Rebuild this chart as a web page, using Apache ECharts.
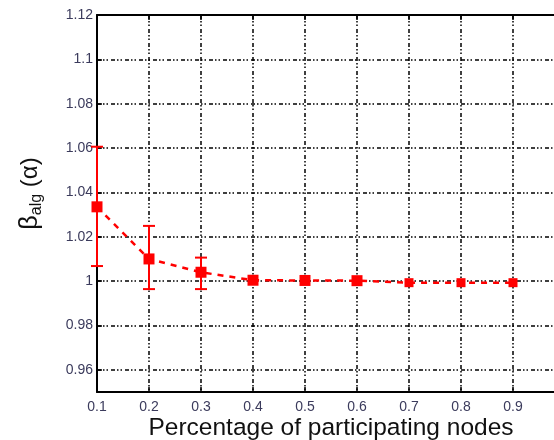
<!DOCTYPE html>
<html><head><meta charset="utf-8">
<script src="https://cdn.jsdelivr.net/npm/echarts@6/dist/echarts.min.js"></script>
<style>html,body{margin:0;padding:0;background:#fff}#c{width:554px;height:440px}</style>
</head><body><div id="c"></div>
<script>
var xValues = [0.1, 0.2, 0.3, 0.4, 0.5, 0.6, 0.7, 0.8, 0.9];
var meanValues = [1.0335, 1.0100, 1.0040, 1.0004, 1.0003, 1.0002, 0.9993, 0.9993, 0.9993];
var errLow = [1.0068, 0.9964, 0.9964, null, null, null, null, null, null];
var errHigh = [1.0606, 1.0249, 1.0106, null, null, null, null, null, null];
var yTicks = [0.96, 0.98, 1, 1.02, 1.04, 1.06, 1.08, 1.1, 1.12];
var xTicks = [0.1, 0.2, 0.3, 0.4, 0.5, 0.6, 0.7, 0.8, 0.9];

var chart = echarts.init(document.getElementById('c'));
var gridLine = {show: true, lineStyle: {color: '#000', width: 1.5, type: [4, 2, 1.5, 2, 1.5, 3]}};
var labelColor = '#3b3b5c';
var lineData = xValues.map(function (x, i) { return [x, meanValues[i]]; });
var errData = [];
xValues.forEach(function (x, i) {
  if (errLow[i] != null) errData.push([x, errLow[i], errHigh[i]]);
});
chart.setOption({
  animation: false,
  grid: {left: 97, top: 15, bottom: 48, right: -11, outerBoundsMode: 'none', containLabel: false},
  xAxis: [{
    type: 'value', min: 0.1, max: 1.0, interval: 0.1, position: 'bottom',
    axisLine: {show: true, onZero: false, lineStyle: {color: '#000', width: 2}},
    axisTick: {show: true, inside: true, length: 5, lineStyle: {color: '#000', width: 1.5}},
    axisLabel: {color: labelColor, fontSize: 14, fontFamily: 'Liberation Sans', margin: 8,
      customValues: xTicks, formatter: function (v) { return String(Math.round(v * 10) / 10); }},
    splitLine: gridLine,
    name: 'Percentage of participating nodes', nameLocation: 'middle', nameGap: 36, nameMoveOverlap: false,
    nameTextStyle: {color: '#111', fontSize: 24.5, fontFamily: 'Liberation Sans', verticalAlign: 'middle', lineHeight: 24}
  }, {
    type: 'value', min: 0.1, max: 1.0, interval: 0.1, position: 'top',
    axisLine: {show: true, onZero: false, lineStyle: {color: '#000', width: 2}},
    axisTick: {show: true, inside: true, length: 5, lineStyle: {color: '#000', width: 1.5}},
    axisLabel: {show: false}, splitLine: {show: false}
  }],
  yAxis: {
    type: 'value', min: 0.95, max: 1.12,
    axisLine: {show: true, onZero: false, lineStyle: {color: '#000', width: 2}},
    axisTick: {show: true, inside: true, length: 5, customValues: yTicks, lineStyle: {color: '#000', width: 1.5}},
    axisLabel: {color: labelColor, fontSize: 14, fontFamily: 'Liberation Sans', margin: 4,
      customValues: yTicks, formatter: function (v) { return String(Math.round(v * 100) / 100); }},
    splitLine: gridLine,
    name: '{b|β}{s|alg}{n| (α)}', nameLocation: 'middle', nameRotate: 90, nameGap: 52, nameMoveOverlap: false,
    nameTextStyle: {
      color: '#111', fontFamily: 'Liberation Sans', padding: [0, 0, 0, 20],
      rich: {
        b: {fontSize: 25, fontFamily: 'Liberation Sans', color: '#111'},
        s: {fontSize: 16, fontFamily: 'Liberation Sans', color: '#111', padding: [14, 0, 0, 0]},
        n: {fontSize: 24, fontFamily: 'Liberation Sans', color: '#111'}
      }
    }
  },
  series: [{
    type: 'line', data: lineData, xAxisIndex: 0,
    symbol: 'rect', symbolSize: function (v, p) { return p.dataIndex < 6 ? 11 : 9; },
    itemStyle: {color: '#ff0000'},
    lineStyle: {color: '#ff0000', width: 2.5, type: [6, 6]},
    z: 5
  }, {
    type: 'custom', data: errData, xAxisIndex: 0, z: 4,
    renderItem: function (params, api) {
      var x = api.value(0);
      var lo = api.coord([x, api.value(1)]);
      var hi = api.coord([x, api.value(2)]);
      var hw = 6;
      var st = {stroke: '#ff0000', lineWidth: 2};
      return {type: 'group', children: [
        {type: 'line', shape: {x1: lo[0], y1: lo[1], x2: hi[0], y2: hi[1]}, style: st},
        {type: 'line', shape: {x1: lo[0] - hw, y1: lo[1], x2: lo[0] + hw, y2: lo[1]}, style: st},
        {type: 'line', shape: {x1: hi[0] - hw, y1: hi[1], x2: hi[0] + hw, y2: hi[1]}, style: st}
      ]};
    }
  }]
});
</script></body></html>
